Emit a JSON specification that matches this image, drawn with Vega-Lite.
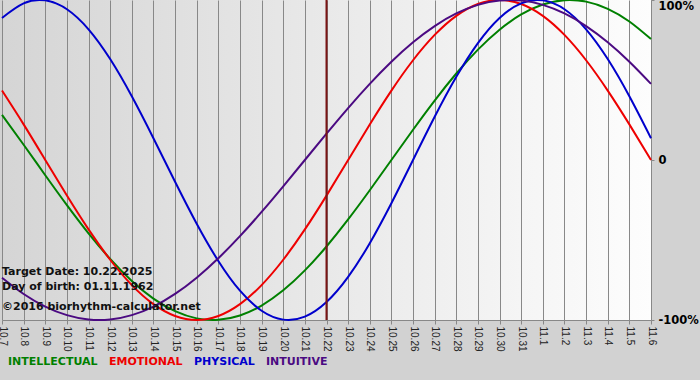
{
  "$schema": "https://vega.github.io/schema/vega-lite/v6.json",
  "autosize": {"type": "none"},
  "width": 649,
  "height": 320,
  "padding": {"left": 2, "top": 0, "right": 49, "bottom": 60},
  "background": "#d2d2d2",
  "config": {
    "view": {
      "stroke": null,
      "fill": {"gradient": "linear", "x1": 0, "y1": 0, "x2": 1, "y2": 0, "stops": [{"offset": 0, "color": "#d5d5d5"}, {"offset": 1, "color": "#fdfdfd"}]}
    }
  },
  "datasets": {
    "curves": [
      {"date": "10.7", "INTELLECTUAL": 0.2817, "EMOTIONAL": 0.4339, "PHYSICAL": 0.8879, "INTUITIVE": -0.7357},
      {"date": "10.8", "INTELLECTUAL": 0.0951, "EMOTIONAL": 0.2225, "PHYSICAL": 0.9791, "INTUITIVE": -0.8372},
      {"date": "10.9", "INTELLECTUAL": -0.0951, "EMOTIONAL": 0, "PHYSICAL": 0.9977, "INTUITIVE": -0.9158},
      {"date": "10.10", "INTELLECTUAL": -0.2817, "EMOTIONAL": -0.2225, "PHYSICAL": 0.9423, "INTUITIVE": -0.9694},
      {"date": "10.11", "INTELLECTUAL": -0.4582, "EMOTIONAL": -0.4339, "PHYSICAL": 0.817, "INTUITIVE": -0.9966},
      {"date": "10.12", "INTELLECTUAL": -0.6182, "EMOTIONAL": -0.6235, "PHYSICAL": 0.6311, "INTUITIVE": -0.9966},
      {"date": "10.13", "INTELLECTUAL": -0.7558, "EMOTIONAL": -0.7818, "PHYSICAL": 0.3984, "INTUITIVE": -0.9694},
      {"date": "10.14", "INTELLECTUAL": -0.866, "EMOTIONAL": -0.901, "PHYSICAL": 0.1362, "INTUITIVE": -0.9158},
      {"date": "10.15", "INTELLECTUAL": -0.945, "EMOTIONAL": -0.9749, "PHYSICAL": -0.1362, "INTUITIVE": -0.8372},
      {"date": "10.16", "INTELLECTUAL": -0.9898, "EMOTIONAL": -1, "PHYSICAL": -0.3984, "INTUITIVE": -0.7357},
      {"date": "10.17", "INTELLECTUAL": -0.9989, "EMOTIONAL": -0.9749, "PHYSICAL": -0.6311, "INTUITIVE": -0.6142},
      {"date": "10.18", "INTELLECTUAL": -0.9718, "EMOTIONAL": -0.901, "PHYSICAL": -0.817, "INTUITIVE": -0.4759},
      {"date": "10.19", "INTELLECTUAL": -0.9096, "EMOTIONAL": -0.7818, "PHYSICAL": -0.9423, "INTUITIVE": -0.3247},
      {"date": "10.20", "INTELLECTUAL": -0.8146, "EMOTIONAL": -0.6235, "PHYSICAL": -0.9977, "INTUITIVE": -0.1646},
      {"date": "10.21", "INTELLECTUAL": -0.6901, "EMOTIONAL": -0.4339, "PHYSICAL": -0.9791, "INTUITIVE": 0},
      {"date": "10.22", "INTELLECTUAL": -0.5406, "EMOTIONAL": -0.2225, "PHYSICAL": -0.8879, "INTUITIVE": 0.1646},
      {"date": "10.23", "INTELLECTUAL": -0.3717, "EMOTIONAL": 0, "PHYSICAL": -0.7308, "INTUITIVE": 0.3247},
      {"date": "10.24", "INTELLECTUAL": -0.1893, "EMOTIONAL": 0.2225, "PHYSICAL": -0.5196, "INTUITIVE": 0.4759},
      {"date": "10.25", "INTELLECTUAL": 0, "EMOTIONAL": 0.4339, "PHYSICAL": -0.2698, "INTUITIVE": 0.6142},
      {"date": "10.26", "INTELLECTUAL": 0.1893, "EMOTIONAL": 0.6235, "PHYSICAL": 0, "INTUITIVE": 0.7357},
      {"date": "10.27", "INTELLECTUAL": 0.3717, "EMOTIONAL": 0.7818, "PHYSICAL": 0.2698, "INTUITIVE": 0.8372},
      {"date": "10.28", "INTELLECTUAL": 0.5406, "EMOTIONAL": 0.901, "PHYSICAL": 0.5196, "INTUITIVE": 0.9158},
      {"date": "10.29", "INTELLECTUAL": 0.6901, "EMOTIONAL": 0.9749, "PHYSICAL": 0.7308, "INTUITIVE": 0.9694},
      {"date": "10.30", "INTELLECTUAL": 0.8146, "EMOTIONAL": 1, "PHYSICAL": 0.8879, "INTUITIVE": 0.9966},
      {"date": "10.31", "INTELLECTUAL": 0.9096, "EMOTIONAL": 0.9749, "PHYSICAL": 0.9791, "INTUITIVE": 0.9966},
      {"date": "11.1", "INTELLECTUAL": 0.9718, "EMOTIONAL": 0.901, "PHYSICAL": 0.9977, "INTUITIVE": 0.9694},
      {"date": "11.2", "INTELLECTUAL": 0.9989, "EMOTIONAL": 0.7818, "PHYSICAL": 0.9423, "INTUITIVE": 0.9158},
      {"date": "11.3", "INTELLECTUAL": 0.9898, "EMOTIONAL": 0.6235, "PHYSICAL": 0.817, "INTUITIVE": 0.8372},
      {"date": "11.4", "INTELLECTUAL": 0.945, "EMOTIONAL": 0.4339, "PHYSICAL": 0.6311, "INTUITIVE": 0.7357},
      {"date": "11.5", "INTELLECTUAL": 0.866, "EMOTIONAL": 0.2225, "PHYSICAL": 0.3984, "INTUITIVE": 0.6142},
      {"date": "11.6", "INTELLECTUAL": 0.7558, "EMOTIONAL": 0, "PHYSICAL": 0.1362, "INTUITIVE": 0.4759}
    ],
    "one": [{}]
  },
  "data": {"name": "curves"},
  "encoding": {
    "x": {
      "field": "date",
      "type": "ordinal",
      "scale": {"type": "point", "padding": 0, "domain": ["10.7","10.8","10.9","10.10","10.11","10.12","10.13","10.14","10.15","10.16","10.17","10.18","10.19","10.20","10.21","10.22","10.23","10.24","10.25","10.26","10.27","10.28","10.29","10.30","10.31","11.1","11.2","11.3","11.4","11.5","11.6"]},
      "axis": {
        "title": null,
        "labelAngle": 90,
        "labelFont": "Liberation Sans",
        "labelFontSize": 10,
        "labelColor": "#222222",
        "labelPadding": 2,
        "labelOverlap": false,
        "tickColor": "#888888",
        "tickSize": 4,
        "domainColor": "#888888",
        "grid": true,
        "gridColor": "#888888",
        "gridOpacity": 1
      }
    }
  },
  "layer": [
    {
      "data": {"name": "one"},
      "mark": {"type": "rule", "color": "#888888", "strokeWidth": 1},
      "encoding": {"y": {"datum": 0, "type": "quantitative", "scale": {"domain": [-1, 1], "nice": false, "zero": false}}}
    },
    {
      "transform": [{"fold": ["INTELLECTUAL", "EMOTIONAL", "PHYSICAL", "INTUITIVE"], "as": ["series", "value"]}],
      "mark": {"type": "line", "interpolate": "natural", "strokeWidth": 2},
      "encoding": {
        "y": {
          "field": "value",
          "type": "quantitative",
          "scale": {"domain": [-1, 1], "nice": false, "zero": false},
          "axis": {
            "orient": "right",
            "title": null,
            "values": [-1, 0, 1],
            "labelExpr": "datum.value == 1 ? '100%' : datum.value == 0 ? '0' : '-100%'",
            "labelFont": "DejaVu Sans",
            "labelFontWeight": "bold",
            "labelFontSize": 11.5,
            "labelColor": "#000000",
            "labelAlign": "left",
            "labelPadding": 4,
            "labelBaseline": {"condition": {"test": "datum.value == 1", "value": "top"}, "value": "middle"},
            "grid": false,
            "ticks": true,
            "tickSize": 3,
            "tickColor": "#888888",
            "domainColor": "#888888"
          }
        },
        "color": {
          "field": "series",
          "type": "nominal",
          "scale": {"domain": ["INTELLECTUAL", "EMOTIONAL", "PHYSICAL", "INTUITIVE"], "range": ["#008000", "#ee0000", "#0000cc", "#4b0a82"]},
          "legend": {
            "title": null,
            "orient": "none",
            "legendX": -5,
            "legendY": 356,
            "padding": 0,
            "direction": "horizontal",
            "symbolSize": 0,
            "symbolOpacity": 0,
            "symbolStrokeWidth": 0,
            "labelOffset": 0,
            "columnPadding": -3,
            "labelFont": "DejaVu Sans",
            "labelFontWeight": "bold",
            "labelFontSize": 11,
            "labelLimit": 300,
            "encode": {"labels": {"update": {"fill": {"scale": "color", "field": "value"}}}}
          }
        },
        "detail": {"field": "series"}
      }
    },
    {
      "data": {"name": "one"},
      "mark": {"type": "rule", "color": "#7a1414", "strokeWidth": 2},
      "encoding": {"x": {"datum": "10.22"}}
    },
    {
      "data": {"name": "one"},
      "mark": {"type": "text", "text": "Target Date: 10.22.2025", "align": "left", "baseline": "middle", "font": "DejaVu Sans", "fontWeight": "bold", "fontSize": 11, "color": "#111111"},
      "encoding": {"x": {"datum": "10.7"}, "y": {"datum": -0.7}}
    },
    {
      "data": {"name": "one"},
      "mark": {"type": "text", "text": "Day of birth: 01.11.1962", "align": "left", "baseline": "middle", "font": "DejaVu Sans", "fontWeight": "bold", "fontSize": 11, "color": "#111111"},
      "encoding": {"x": {"datum": "10.7"}, "y": {"datum": -0.794}}
    },
    {
      "data": {"name": "one"},
      "mark": {"type": "text", "text": "©2016 biorhythm-calculator.net", "align": "left", "baseline": "middle", "font": "DejaVu Sans", "fontWeight": "bold", "fontSize": 11, "color": "#111111"},
      "encoding": {"x": {"datum": "10.7"}, "y": {"datum": -0.919}}
    }
  ]
}
